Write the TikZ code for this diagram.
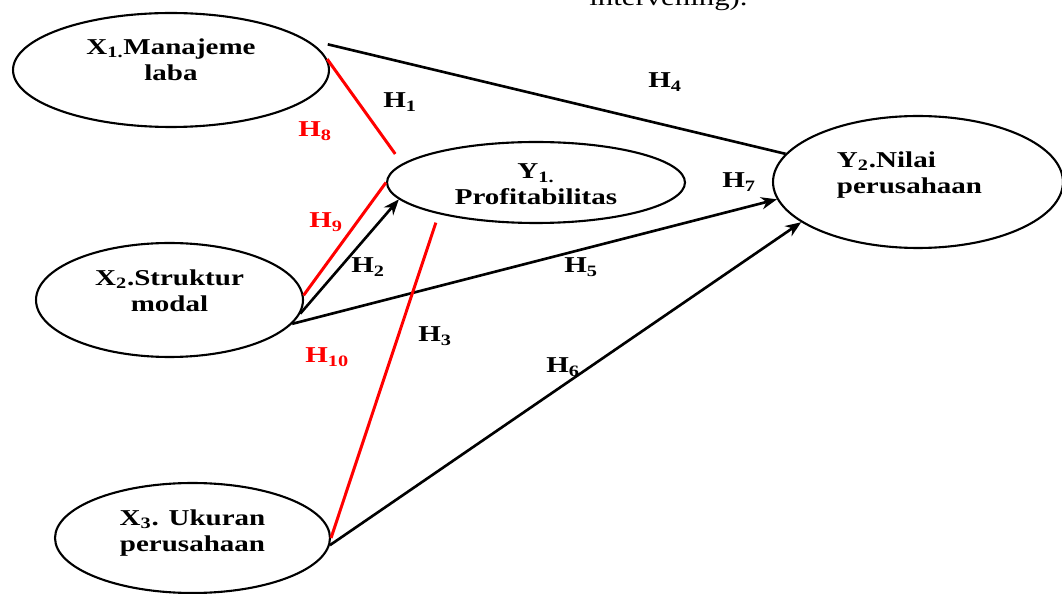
\documentclass[tikz,border=0pt]{standalone}
\usepackage{fontspec}
\setmainfont{Liberation Serif}[FakeStretch=1.28]
\usetikzlibrary{arrows.meta,shapes.geometric}

\tikzset{
  varnode/.style={draw, ellipse, line width=1.2pt, inner sep=0pt},
  vartext/.style={font=\fontsize{12.9}{14.8}\selectfont\bfseries, align=center, inner sep=0pt},
  hlabel/.style={font=\fontsize{12.9}{14.8}\selectfont\bfseries, anchor=base west, inner sep=0pt},
  redlink/.style={draw=red, line width=1.7pt}
}

\begin{document}
\begin{tikzpicture}[
    x=0.02cm, y=-0.02cm,
    >={Stealth[length=9pt,width=7pt]},
    line width=1.5pt
  ]
  \useasboundingbox (0,0) rectangle (1062,594);

  % Heading text, cut off at the top
  \node[font=\fontsize{13.7}{16}\selectfont, anchor=base west, inner sep=0pt] (cap) at (588,6) {intervening).};

  % Variables
  \node[varnode, minimum width=6.32cm, minimum height=2.28cm,
    label={[vartext, yshift=0.2cm]center:{X\textsubscript{1.}Manajeme\\laba}}] (x1) at (171,70) {};
  \node[varnode, minimum width=5.34cm, minimum height=2.28cm,
    label={[vartext, yshift=0.18cm]center:{X\textsubscript{2}.Struktur\\modal}}] (x2) at (169.5,300) {};
  \node[varnode, minimum width=5.5cm, minimum height=2.2cm,
    label={[vartext, yshift=0.1cm]center:{X\textsubscript{3}. Ukuran\\perusahaan}}] (x3) at (192.5,538) {};
  \node[varnode, minimum width=5.96cm, minimum height=1.62cm,
    label={[vartext, yshift=-0.04cm]center:{Y\textsubscript{1.}\\Profitabilitas}}] (y1) at (536,182.5) {};
  \node[varnode, minimum width=5.8cm, minimum height=2.64cm,
    label={[vartext, align=left, xshift=-0.17cm, yshift=0.14cm]center:{Y\textsubscript{2}.Nilai\\perusahaan}}] (y2) at (918,182) {};

  % Paths to Y2
  \draw[shorten <=0.46cm] (x1.13.4) -- (y2.168.4);
  \draw[->] (x2.-11) -- (y2.187.5);
  \draw[->] (x3.-3.3) -- (y2.199.2);
  \draw[->] (x2.-6.8) -- (y1.187.5);

  % Red paths
  \draw[redlink, shorten >=0.24cm] (x1.4.7) -- (y1.172.4);
  \draw[redlink] (y1.180) -- (x2.2.2);
  \draw[redlink, shorten >=0.18cm] (x3.0) -- (y1.198);

  % Hypothesis labels
  \node[hlabel] (h1) at (382,108) {H\textsubscript{1}};
  \node[hlabel] (h2) at (350,273) {H\textsubscript{2}};
  \node[hlabel] (h3) at (417,342) {H\textsubscript{3}};
  \node[hlabel] (h4) at (647,88) {H\textsubscript{4}};
  \node[hlabel] (h5) at (563,273) {H\textsubscript{5}};
  \node[hlabel] (h6) at (545,373) {H\textsubscript{6}};
  \node[hlabel] (h7) at (721,188) {H\textsubscript{7}};
  \node[hlabel, red] (h8) at (297,137) {H\textsubscript{8}};
  \node[hlabel, red] (h9) at (308,228) {H\textsubscript{9}};
  \node[hlabel, red] (h10) at (304,363) {H\textsubscript{10}};
\end{tikzpicture}
\end{document}
